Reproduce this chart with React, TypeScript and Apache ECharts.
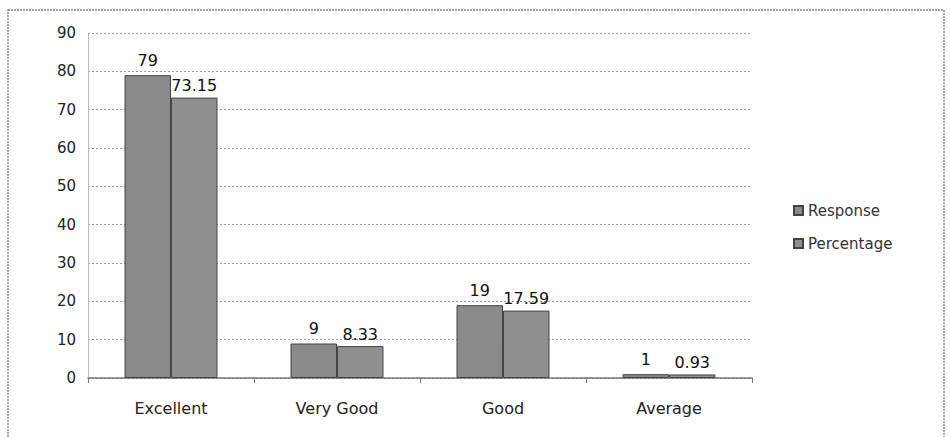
import React, { useEffect, useRef } from "react";
import * as echarts from "echarts";

const categories = ["Excellent", "Very Good", "Good", "Average"];
const responseValues = [79, 9, 19, 1];
const percentageValues = [73.15, 8.33, 17.59, 0.93];
const seriesNames = ["Response", "Percentage"];

export default function App() {
  const ref = useRef<HTMLDivElement>(null);
  useEffect(() => {
    if (!ref.current) return;
    const chart = echarts.init(ref.current, undefined, { renderer: "svg" });
    const font = "DejaVu Sans";
    chart.setOption({
      animation: false,
      backgroundColor: "#ffffff",
      textStyle: { fontFamily: font },
      graphic: [
        {
          type: "rect",
          shape: { x: 8, y: 10, width: 936, height: 440 },
          style: { fill: "none", stroke: "#888", lineWidth: 1.5, lineDash: [2, 1] },
          silent: true,
        },
      ],
      grid: { left: 88, right: 198, top: 33, bottom: 59 },
      legend: {
        orient: "vertical",
        left: 788,
        top: 198,
        itemWidth: 9,
        itemHeight: 9,
        itemGap: 18,
        icon: "rect",
        textStyle: { fontFamily: font, fontSize: 15, color: "#333" },
        data: seriesNames,
      },
      xAxis: {
        type: "category",
        data: categories,
        axisLine: { lineStyle: { color: "#777", width: 1.5 } },
        axisTick: { show: true, lineStyle: { color: "#777" }, length: 5 },
        axisLabel: { fontFamily: font, fontSize: 16, color: "#222", margin: 22 },
      },
      yAxis: {
        type: "value",
        min: 0,
        max: 90,
        interval: 10,
        axisLine: { show: true, lineStyle: { color: "#bbb" } },
        axisTick: { show: false },
        axisLabel: { fontFamily: font, fontSize: 15, color: "#222", margin: 12 },
        splitLine: { lineStyle: { color: "#999", type: [2, 2] } },
      },
      series: [
        {
          name: seriesNames[0],
          type: "bar",
          data: responseValues,
          barGap: "0%",
          barCategoryGap: "44%",
          itemStyle: { color: "#8a8a8a", borderColor: "#444", borderWidth: 1 },
          label: { show: true, position: "top", fontFamily: font, fontSize: 16, color: "#111", distance: 7 },
        },
        {
          name: seriesNames[1],
          type: "bar",
          data: percentageValues,
          itemStyle: { color: "#8f8f8f", borderColor: "#444", borderWidth: 1 },
          label: { show: true, position: "top", fontFamily: font, fontSize: 16, color: "#111", distance: 4 },
        },
      ],
    });
    return () => chart.dispose();
  }, []);
  return <div ref={ref} style={{ width: 950, height: 437, position: "absolute", left: 0, top: 0 }} />;
}
